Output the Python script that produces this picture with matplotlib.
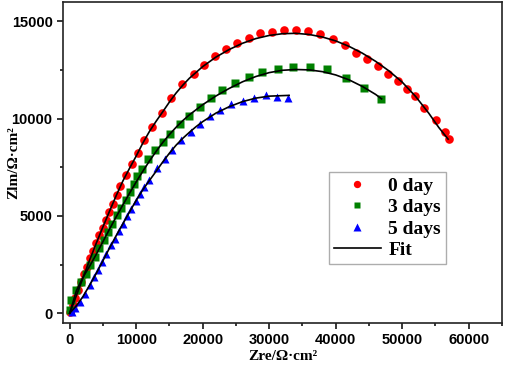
import matplotlib
matplotlib.use("Agg")
import matplotlib.pyplot as plt
from matplotlib.ticker import MultipleLocator

# measured impedance (ohm cm^2)
day0_re = [100, 450, 850, 1300, 1750, 2200, 2650, 3100, 3550, 4000, 4450, 4950,
           5450, 5950, 6500, 7050, 7620, 8420, 9370, 10270, 11170, 12440, 13880,
           15290, 16950, 18650, 20200, 21800, 23460, 25160, 26920, 28680, 30420,
           32230, 34030, 35840, 37590, 39550, 41350, 43110, 44710, 46360, 47870,
           49370, 50720, 51990, 53340, 55040, 56390, 57040]
day0_im = [80, 400, 780, 1200, 1600, 2000, 2400, 2820, 3200, 3600, 4000, 4400,
           4800, 5200, 5620, 6080, 6550, 7090, 7690, 8260, 8930, 9570, 10290,
           11090, 11770, 12320, 12750, 13220, 13570, 13890, 14170, 14400, 14440,
           14540, 14560, 14490, 14350, 14120, 13770, 13380, 13090, 12690, 12320,
           11920, 11510, 11150, 10550, 9920, 9320, 8940]

day3_re = [100, 260, 1010, 1760, 2410, 3110, 3760, 4410, 5110, 5760, 6420, 7110,
           7770, 8420, 9020, 9620, 10150, 10930, 11810, 12780, 13990, 15110,
           16540, 17900, 19550, 21200, 22960, 24810, 26920, 28980, 31280, 33610,
           36090, 38690, 41500, 44210, 46840]
day3_im = [150, 670, 1180, 1610, 2040, 2470, 2890, 3330, 3750, 4180, 4610, 5040,
           5430, 5840, 6230, 6630, 7040, 7440, 7950, 8380, 8800, 9240, 9710,
           10120, 10600, 11060, 11500, 11840, 12140, 12400, 12580, 12660, 12670,
           12570, 12100, 11600, 11000]

day5_re = [300, 800, 1500, 2250, 3000, 3650, 4250, 4900, 5500, 6150, 6750, 7400,
           8000, 8600, 9250, 9900, 10500, 11250, 11950, 13100, 14300, 15450,
           16800, 18300, 19650, 21050, 22550, 24300, 26050, 27700, 29450, 31150,
           32850]
day5_im = [50, 250, 580, 1010, 1440, 1840, 2210, 2640, 3070, 3500, 3840, 4230,
           4610, 4990, 5380, 5770, 6150, 6490, 6850, 7490, 7950, 8410, 8890,
           9320, 9750, 10120, 10430, 10740, 10910, 11060, 11200, 11140, 11090]

# equivalent-circuit fits
fit0_re = [0, 1000, 2000, 3000, 4000, 5000, 6000, 7000, 8000, 9000, 10000, 11000,
           12000, 13000, 14000, 15000, 16000, 17000, 18000, 20000, 22000, 24000,
           26000, 28000, 30000, 32000, 34000, 36000, 38000, 40000, 42000, 44000,
           46000, 48000, 50000, 52000, 54000, 55500, 56900]
fit0_im = [0, 900, 1820, 2730, 3600, 4440, 5250, 6050, 6800, 7450, 8080, 8750,
           9350, 9870, 10360, 10860, 11320, 11720, 12080, 12680, 13170, 13560,
           13880, 14120, 14280, 14370, 14390, 14330, 14200, 14000, 13720, 13370,
           12950, 12460, 11880, 11150, 10280, 9550, 8950]

fit3_re = [0, 1000, 2000, 3000, 4000, 5000, 6000, 7000, 8000, 9000, 10000, 11000,
           12000, 13000, 14000, 15000, 16000, 17000, 18000, 20000, 22000, 24000,
           26000, 28000, 30000, 32000, 34000, 36000, 38000, 40000, 42000, 44000,
           46000, 46900]
fit3_im = [0, 1150, 1850, 2420, 3030, 3680, 4330, 4960, 5570, 6170, 6750, 7300,
           7830, 8320, 8780, 9190, 9560, 9900, 10200, 10720, 11170, 11560, 11900,
           12170, 12370, 12490, 12530, 12510, 12420, 12250, 12000, 11660, 11250,
           11020]

fit5_re = [0, 1000, 2000, 3000, 4000, 5000, 6000, 7000, 8000, 9000, 10000, 11000,
           12000, 13000, 14000, 15000, 16000, 17000, 18000, 19000, 20000, 22000,
           24000, 26000, 28000, 30000, 33000]
fit5_im = [0, 380, 860, 1440, 2050, 2700, 3360, 3990, 4600, 5210, 5800, 6350,
           6830, 7300, 7780, 8230, 8640, 8990, 9300, 9590, 9850, 10290, 10620,
           10880, 11060, 11160, 11200]

serif = "Liberation Serif"
sans = "Liberation Sans"

fig = plt.figure(figsize=(5.05, 3.69), dpi=100)
ax = fig.add_axes([0.1248, 0.1247, 0.8692, 0.8699])

ax.plot(day0_re, day0_im, "o", color="#ff0000", ms=6.2, mec="none", label="0 day", zorder=2)
ax.plot(day3_re, day3_im, "s", color="#008000", ms=5.2, mec="none", label="3 days", zorder=2)
ax.plot(day5_re, day5_im, "^", color="#0000ff", ms=6.2, mec="none", label="5 days", zorder=2)
ax.plot(fit0_re, fit0_im, "-", color="black", lw=1.2, label="Fit", zorder=3)
ax.plot(fit3_re, fit3_im, "-", color="black", lw=1.2, zorder=3)
ax.plot(fit5_re, fit5_im, "-", color="black", lw=1.2, zorder=3)

ax.set_xlim(-1000, 65000)
ax.set_ylim(-500, 16000)
ax.xaxis.set_major_locator(MultipleLocator(10000))
ax.xaxis.set_minor_locator(MultipleLocator(5000))
ax.yaxis.set_major_locator(MultipleLocator(5000))
ax.yaxis.set_minor_locator(MultipleLocator(2500))
ax.tick_params(which="major", direction="out", length=4.5, width=1.1,
               top=False, right=False, pad=3)
ax.tick_params(which="minor", direction="out", length=2.5, width=1.1,
               top=False, right=False)
for lbl in ax.get_xticklabels() + ax.get_yticklabels():
    lbl.set_fontfamily(sans)
    lbl.set_fontweight("bold")
    lbl.set_fontsize(10.5)
for sp in ax.spines.values():
    sp.set_linewidth(1.2)
    sp.set_color("#222222")

ax.set_xlabel("Zre/Ω·cm²", fontfamily=serif, fontweight="bold", fontsize=11)
ax.set_ylabel("Zlm/Ω·cm²", fontfamily=serif, fontweight="bold", fontsize=11)
ax.xaxis.set_label_coords(0.5, -0.085)
ax.yaxis.set_label_coords(-0.098, 0.5)

leg = ax.legend(loc="upper left", bbox_to_anchor=(0.606, 0.47), borderaxespad=0,
                prop={"family": serif, "weight": "bold", "size": 14},
                fancybox=False, frameon=True, handlelength=2.4, handletextpad=0.4,
                labelspacing=0.2, borderpad=0.25, markerscale=0.85)
leg.get_frame().set_edgecolor("#999999")
leg.get_frame().set_linewidth(1.0)

fig.savefig("out.png", dpi=100)
